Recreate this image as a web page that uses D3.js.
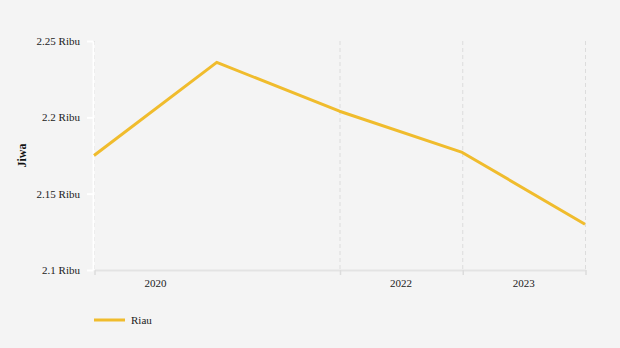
<!DOCTYPE html>
<html><head><meta charset="utf-8">
<script src="https://cdn.jsdelivr.net/npm/d3@7"></script>
<style>body{margin:0;background:#f4f4f4}svg{display:block}
svg text{font-family:"Liberation Serif","DejaVu Serif",serif;}</style>
</head><body>
<script>
// Data
const seriesName = "Riau";
const pointIndex = [0, 1, 2, 3, 4];
const values = [2175, 2236, 2204, 2177, 2130];
const gridIndex = [0, 2, 3, 4];
const yearLabels = ["2020", "2022", "2023"];
const yearLabelIndex = [0.5, 2.5, 3.5];
const yTicks = [2100, 2150, 2200, 2250];
const yTitle = "Jiwa";

const W = 620, H = 348;
const svg = d3.select("body").append("svg").attr("width", W).attr("height", H);
svg.append("rect").attr("width", W).attr("height", H).attr("fill", "#f4f4f4");

const x = d3.scaleLinear().domain([0, 4]).range([94, 585]);
const y = d3.scaleLinear().domain([2100, 2250]).range([270, 41]);

// vertical dashed grid
svg.append("g").selectAll("line").data(gridIndex).join("line")
  .attr("x1", d => x(d) + 0.5).attr("x2", d => x(d) + 0.5)
  .attr("y1", y(2250)).attr("y2", y(2100))
  .attr("stroke", "#dcdcdc").attr("stroke-width", 1).attr("stroke-dasharray", "4,3");

// x axis
const xAxis = d3.axisBottom(x).tickValues(gridIndex).tickFormat("").tickSize(5).tickSizeOuter(0);
const gx = svg.append("g").attr("transform", `translate(0.5,${y(2100)})`).call(xAxis);
gx.select(".domain").attr("stroke", "#e3e3e3").attr("stroke-width", 2);
gx.selectAll(".tick line").attr("stroke", "#dcdcdc").attr("stroke-width", 1.5);

svg.append("g").selectAll("text").data(yearLabels).join("text")
  .attr("x", (d, i) => x(yearLabelIndex[i])).attr("y", 287)
  .attr("text-anchor", "middle").style("font-size", "11px")
  .attr("fill", "#222").text(d => d);

// y axis
const yAxis = d3.axisLeft(y).tickValues(yTicks)
  .tickFormat(d => d3.format("~g")(d / 1000) + " Ribu").tickSize(6).tickSizeOuter(0).tickPadding(7);
const gy = svg.append("g").attr("transform", "translate(93,0)").call(yAxis);
gy.attr("font-family", null).attr("font-size", null);
gy.select(".domain").attr("stroke", "#ffffff").attr("stroke-width", 2);
gy.selectAll(".tick line").attr("stroke", "#ffffff").attr("stroke-width", 2);
gy.selectAll(".tick text").style("font-size", "11px").attr("fill", "#222");

svg.append("text").attr("transform", `translate(26,${(y(2250) + y(2100)) / 2}) rotate(-90)`)
  .attr("text-anchor", "middle").style("font-size", "12px")
  .attr("font-weight", "bold").attr("fill", "#111").text(yTitle);

// line
const line = d3.line().x(d => x(d[0])).y(d => y(d[1]));
svg.append("path").datum(pointIndex.map((p, i) => [p, values[i]]))
  .attr("d", line).attr("fill", "none").attr("stroke", "#f0bc2d")
  .attr("stroke-width", 3).attr("stroke-linejoin", "round");

// legend
svg.append("line").attr("x1", 94).attr("x2", 125).attr("y1", 320).attr("y2", 320)
  .attr("stroke", "#f0bc2d").attr("stroke-width", 3);
svg.append("text").attr("x", 131).attr("y", 324)
  .style("font-size", "11px").attr("fill", "#222").text(seriesName);
</script>
</body></html>
